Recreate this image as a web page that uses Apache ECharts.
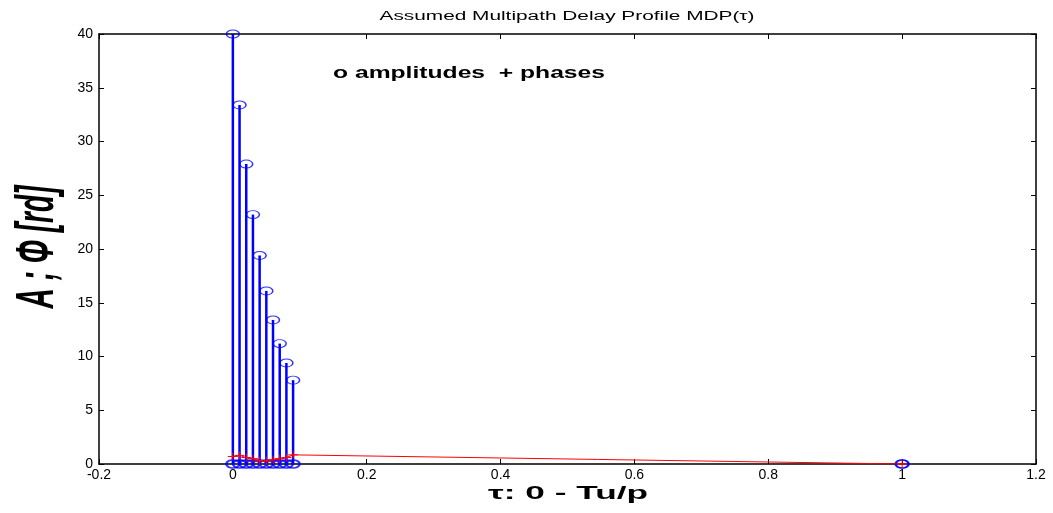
<!DOCTYPE html>
<html><head><meta charset="utf-8">
<script src="https://cdn.jsdelivr.net/npm/echarts@6.0.0/dist/echarts.min.js"></script>
<style>html,body{margin:0;padding:0;background:#fff}#c{width:1053px;height:513px}</style>
</head><body><div id="c"></div>
<script>
// ---- data ----
const delays = [0, 0.01, 0.02, 0.03, 0.04, 0.05, 0.06, 0.07, 0.08, 0.09, 1];
const amplitudes = [40, 33.4, 27.9, 23.2, 19.4, 16.1, 13.4, 11.2, 9.4, 7.8, 0];
const phases = [0.7, 0.8, 0.6, 0.5, 0.3, 0.3, 0.4, 0.5, 0.6, 0.85, 0];
const xTicks = [-0.2, 0, 0.2, 0.4, 0.6, 0.8, 1, 1.2];
const yTicks = [0, 5, 10, 15, 20, 25, 30, 35, 40];
const titleText = 'Assumed Multipath Delay Profile MDP(\u03c4)';
const xLabelText = '\u03c4: 0 - Tu/p';
const yLabelText = 'A ; \u03a6 [rd]';
const noteText = 'o amplitudes  + phases';

const BLUE = '#0000ff', RED = '#ff0000';
const ctx = document.createElement('canvas').getContext('2d');
function fit(text, font, target) { ctx.font = font; return target / ctx.measureText(text).width; }

const fTitle = '12px "Liberation Sans", Arial, sans-serif';
const fX = 'bold 18px "Liberation Sans", Arial, sans-serif';
const fY = 'bold italic 54px "Liberation Sans", Arial, sans-serif';
const fNote = 'bold 16px "Liberation Sans", Arial, sans-serif';

const chart = echarts.init(document.getElementById('c'), null, {renderer: 'canvas'});
const axisCommon = {
  type: 'value',
  axisLine: {show: true, onZero: false, lineStyle: {color: '#000', width: 1.5}},
  axisTick: {show: true, inside: true, length: 5, lineStyle: {color: '#000', width: 1}},
  splitLine: {show: false}
};
const xMin = xTicks[0], xMax = xTicks[xTicks.length - 1];
const yMin = yTicks[0], yMax = yTicks[yTicks.length - 1];
const fmt = v => String(+(+v).toFixed(1));

chart.setOption({
  animation: false,
  backgroundColor: '#fff',
  grid: {left: 99, right: 17, top: 34, bottom: 49, containLabel: false, outerBoundsMode: 'none'},
  xAxis: [
    Object.assign({}, axisCommon, {position: 'bottom', min: xMin, max: xMax, interval: 0.2,
      axisLabel: {show: true, formatter: fmt, color: '#000', fontSize: 14, margin: 4, fontFamily: 'Liberation Sans'}}),
    Object.assign({}, axisCommon, {position: 'top', min: xMin, max: xMax, interval: 0.2, axisLabel: {show: false}})
  ],
  yAxis: [
    Object.assign({}, axisCommon, {position: 'left', min: yMin, max: yMax, interval: 5,
      axisLabel: {show: true, color: '#000', fontSize: 14, margin: 6, fontFamily: 'Liberation Sans'}}),
    Object.assign({}, axisCommon, {position: 'right', min: yMin, max: yMax, interval: 5, axisLabel: {show: false}})
  ],
  graphic: [
    {type: 'text', x: 567, y: 17, scaleX: fit(titleText, fTitle, 375),
     style: {text: titleText, font: fTitle, fill: '#000', textAlign: 'center', textVerticalAlign: 'middle'}},
    {type: 'text', x: 568, y: 494, scaleX: fit(xLabelText, fX, 160),
     style: {text: xLabelText, font: fX, fill: '#000', textAlign: 'center', textVerticalAlign: 'middle'}},
    {type: 'text', x: 38, y: 247, rotation: Math.PI / 2, scaleX: fit(yLabelText, fY, 123),
     style: {text: yLabelText, font: fY, fill: '#000', textAlign: 'center', textVerticalAlign: 'middle'}},
    {type: 'text', x: 333, y: 74, scaleX: fit(noteText, fNote, 272),
     style: {text: noteText, font: fNote, fill: '#000', textAlign: 'left', textVerticalAlign: 'middle'}}
  ],
  series: [
    {
      type: 'custom', name: 'stems', clip: false, z: 2,
      data: delays.map((d, i) => [d, amplitudes[i]]),
      encode: {x: 0, y: 1},
      renderItem: (params, api) => {
        const p0 = api.coord([api.value(0), 0]);
        const p1 = api.coord([api.value(0), api.value(1)]);
        return {type: 'line', shape: {x1: p0[0], y1: p0[1], x2: p1[0], y2: p1[1]},
                style: {stroke: BLUE, lineWidth: 2.5}};
      }
    },
    {
      type: 'scatter', name: 'amplitudes', clip: false, z: 3,
      symbol: 'circle', symbolSize: [13, 8],
      itemStyle: {color: 'rgba(0,0,0,0)', borderColor: BLUE, borderWidth: 1.2},
      data: delays.map((d, i) => [d, amplitudes[i]])
    },
    {
      type: 'scatter', name: 'base', clip: false, z: 3,
      symbol: 'circle', symbolSize: [13, 8],
      itemStyle: {color: 'rgba(0,0,0,0)', borderColor: BLUE, borderWidth: 2},
      data: delays.map(d => [d, 0])
    },
    {
      type: 'line', name: 'phases', z: 4, symbol: 'none',
      lineStyle: {color: RED, width: 1},
      data: delays.map((d, i) => [d, phases[i]])
    },
    {
      type: 'custom', name: 'phase marks', clip: false, z: 5,
      data: delays.map((d, i) => [d, phases[i]]),
      encode: {x: 0, y: 1},
      renderItem: (params, api) => {
        const p = api.coord([api.value(0), api.value(1)]);
        return {type: 'group', children: [
          {type: 'line', shape: {x1: p[0] - 5, y1: p[1], x2: p[0] + 5, y2: p[1]}, style: {stroke: RED, lineWidth: 1}},
          {type: 'line', shape: {x1: p[0], y1: p[1] - 4, x2: p[0], y2: p[1] + 4}, style: {stroke: RED, lineWidth: 1}}
        ]};
      }
    }
  ]
});
</script>
</body></html>
